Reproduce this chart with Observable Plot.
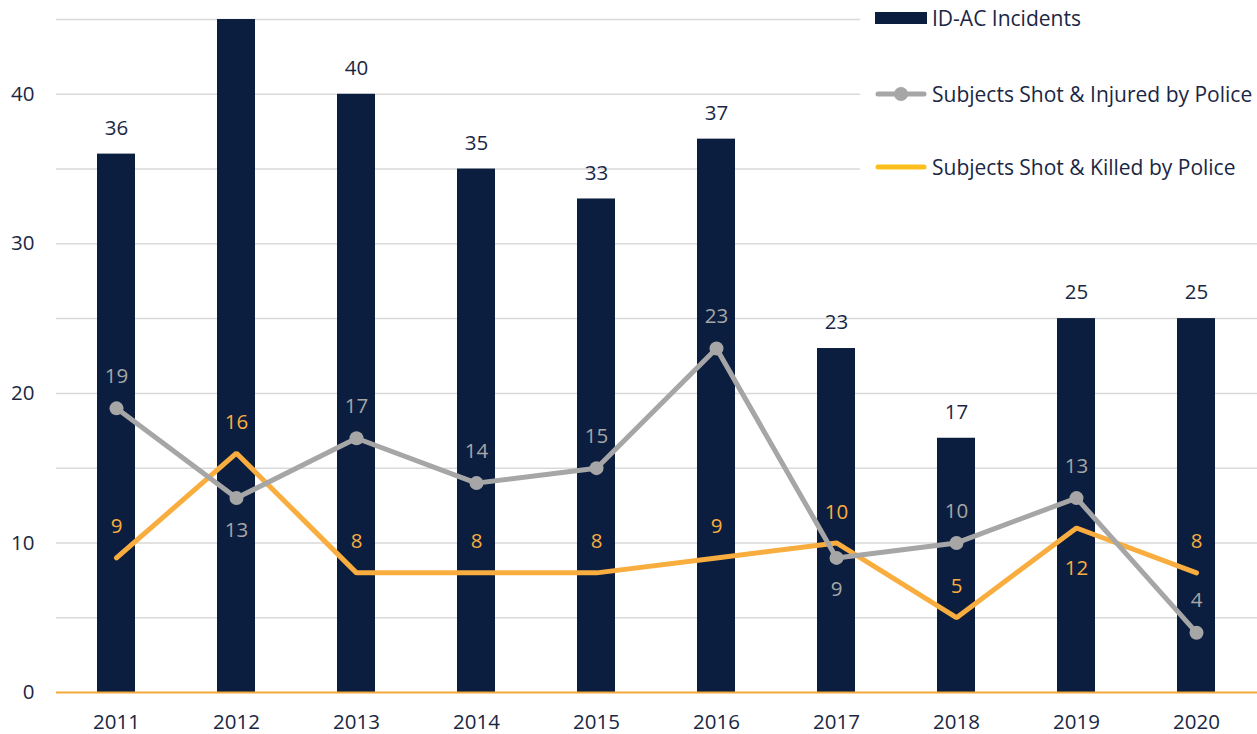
<!DOCTYPE html>
<html><head><meta charset="utf-8">
<script src="https://cdn.jsdelivr.net/npm/d3@7"></script>
<script src="https://cdn.jsdelivr.net/npm/@observablehq/plot@0.6"></script>
<style>
body{margin:0;background:#fff;font-family:"Open Sans",sans-serif;}
#wrap{position:relative;width:1257px;height:734px;}
#legend{position:absolute;left:860px;top:0;width:397px;height:190px;background:#fff;}
.item{position:absolute;left:15px;height:30px;display:flex;align-items:center;color:#1a2744;font-size:21px;white-space:nowrap;}
.sw{width:52px;height:30px;margin-right:5px;flex:none;}
</style></head>
<body><div id="wrap"><div id="legend"></div></div>
<script>
const years = ["2011","2012","2013","2014","2015","2016","2017","2018","2019","2020"];
const incidents = [36, 46, 40, 35, 33, 37, 23, 17, 25, 25];
const injured = [19, 13, 17, 14, 15, 23, 9, 10, 13, 4];
const killed = [9, 16, 8, 8, 8, 9, 10, 5, 11, 8];
const killedLabels = ["9","16","8","8","8","9","10","5","12","8"];
const seriesNames = ["ID-AC Incidents","Subjects Shot & Injured by Police","Subjects Shot & Killed by Police"];
const yTicks = [0, 10, 20, 30, 40];
const gridValues = [5, 10, 15, 20, 25, 30, 35, 40, 45];
const yMax = 45;

const NAVY = "#0b1e3f", GRAY = "#a6a6a6", ORANGE = "#f9ad3e", TEXT = "#1a2744";
const rows = years.map((y, i) => ({year: y, inc: incidents[i], inj: injured[i], kil: killed[i], kl: killedLabels[i]}));
const injBelow = new Set(["2012", "2017"]);
const kilBelow = new Set(["2019"]);
const FS = 20.5;

const chart = Plot.plot({
  width: 1257, height: 734,
  marginTop: 19, marginBottom: 42, marginLeft: 56, marginRight: 0,
  style: {fontFamily: "Open Sans, sans-serif", fontSize: "20.5px", color: TEXT, background: "#fff"},
  x: {domain: years, paddingInner: 0.68, paddingOuter: 0.34, label: null, tickSize: 0, tickPadding: 22},
  y: {domain: [0, yMax], label: null, ticks: yTicks, tickSize: 0, tickPadding: 22},
  marks: [
    Plot.ruleY(gridValues, {stroke: "#d9d9d9", strokeWidth: 1.5}),
    Plot.barY(rows, {x: "year", y: "inc", fill: NAVY, clip: true}),
    Plot.text(rows, {x: "year", y: "inc", text: d => String(d.inc), dy: -26, fill: TEXT, fontSize: FS,
      filter: d => d.inc <= yMax - 2}),
    Plot.ruleY([0], {stroke: "#f5a93d", strokeWidth: 2}),
    Plot.line(rows, {x: "year", y: "kil", stroke: ORANGE, strokeWidth: 5, strokeLinejoin: "miter"}),
    Plot.line(rows, {x: "year", y: "inj", stroke: GRAY, strokeWidth: 5}),
    Plot.dot(rows, {x: "year", y: "inj", fill: GRAY, r: 7}),
    Plot.text(rows, {x: "year", y: "inj", text: d => String(d.inj), fill: GRAY, fontSize: FS,
      filter: d => !injBelow.has(d.year), dy: -32}),
    Plot.text(rows, {x: "year", y: "inj", text: d => String(d.inj), fill: GRAY, fontSize: FS,
      filter: d => injBelow.has(d.year), dy: 32}),
    Plot.text(rows, {x: "year", y: "kil", text: "kl", fill: ORANGE, fontSize: FS,
      filter: d => !kilBelow.has(d.year), dy: -31}),
    Plot.text(rows, {x: "year", y: "kil", text: "kl", fill: ORANGE, fontSize: FS,
      filter: d => kilBelow.has(d.year), dy: 40})
  ]
});
chart.querySelectorAll('[aria-label="x-axis tick label"] text, [aria-label="y-axis tick label"] text').forEach(t => t.setAttribute("fill", TEXT));
document.getElementById("wrap").prepend(chart);

const legend = document.getElementById("legend");
const swatches = [
  `<svg class="sw" viewBox="0 0 52 30"><rect x="0" y="9" width="52" height="12" fill="${NAVY}"/></svg>`,
  `<svg class="sw" viewBox="0 0 52 30"><line x1="3" x2="49" y1="15" y2="15" stroke="${GRAY}" stroke-width="5" stroke-linecap="round"/><circle cx="26" cy="15" r="7" fill="${GRAY}"/></svg>`,
  `<svg class="sw" viewBox="0 0 52 30"><line x1="3" x2="49" y1="15" y2="15" stroke="#fcbf1e" stroke-width="5" stroke-linecap="round"/></svg>`
];
const tops = [3, 79, 152];
seriesNames.forEach((name, i) => {
  const d = document.createElement("div");
  d.className = "item";
  d.style.top = tops[i] + "px";
  d.innerHTML = swatches[i] + `<span>${name}</span>`;
  legend.appendChild(d);
});
</script>
</body></html>
